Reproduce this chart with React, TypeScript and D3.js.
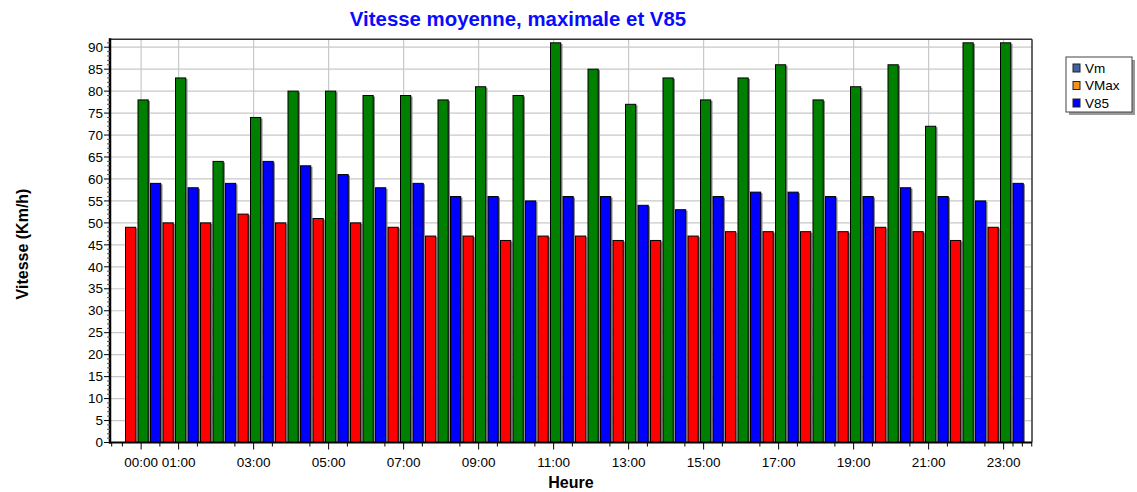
import React from "react";
import * as d3 from "d3";

const hourLabels = [
  "00:00", "01:00", "02:00", "03:00", "04:00", "05:00", "06:00", "07:00",
  "08:00", "09:00", "10:00", "11:00", "12:00", "13:00", "14:00", "15:00",
  "16:00", "17:00", "18:00", "19:00", "20:00", "21:00", "22:00", "23:00",
];
const vm = [49, 50, 50, 52, 50, 51, 50, 49, 47, 47, 46, 47, 47, 46, 46, 47, 48, 48, 48, 48, 49, 48, 46, 49];
const vmax = [78, 83, 64, 74, 80, 80, 79, 79, 78, 81, 79, 91, 85, 77, 83, 78, 83, 86, 78, 81, 86, 72, 91, 91];
const v85 = [59, 58, 59, 64, 63, 61, 58, 59, 56, 56, 55, 56, 56, 54, 53, 56, 57, 57, 56, 56, 58, 56, 55, 59];
const shownHourLabels = ["00:00", "01:00", "03:00", "05:00", "07:00", "09:00", "11:00", "13:00", "15:00", "17:00", "19:00", "21:00", "23:00"];
const yTickValues = [0, 5, 10, 15, 20, 25, 30, 35, 40, 45, 50, 55, 60, 65, 70, 75, 80, 85, 90];
const seriesNames = ["Vm", "VMax", "V85"];
const barColors = ["#ff0000", "#008000", "#0000ff"];
const legendColors = ["#3d62a6", "#f39020", "#0000ff"];

const W = 1137;
const H = 492;
const plot = { left: 110, right: 1032, top: 39.3, bottom: 442.5 };
const FONT = "'Liberation Sans', Arial, sans-serif";

export default function App() {
  const series = [vm, vmax, v85];
  const x0 = d3.scaleBand<string>().domain(hourLabels).range([125, 1025]).paddingInner(0).paddingOuter(0);
  const x1 = d3.scaleBand<string>().domain(seriesNames).range([0, x0.bandwidth()]).padding(0);
  const y = d3.scaleLinear().domain([0, 91.8]).range([plot.bottom, plot.top]);
  const tickOffset = x0.bandwidth() * 0.43;
  const bw = x1.bandwidth();

  const yMinor = d3.range(0, 92, 1).filter((v) => v % 5 !== 0);
  const halfStep = x0.bandwidth() / 2;
  const xMinor: number[] = [];
  const firstTick = (x0("00:00") as number) + tickOffset;
  for (let k = -1; k <= 46; k++) {
    if (k % 2 === 0 && k >= 0) continue;
    xMinor.push(firstTick + k * halfStep);
  }
  const lastTick = (x0("23:00") as number) + tickOffset;
  [0.25, 0.5, 0.75].forEach((f) => xMinor.push(lastTick + f * x0.bandwidth()));
  xMinor.push(plot.left + 1.7);

  return (
    <svg width={W} height={H} style={{ position: "fixed", left: 0, top: 0, background: "#fff" }} fontFamily={FONT}>
      <rect x={0} y={0} width={W} height={H} fill="#fff" />
      {/* title */}
      <text x={518} y={26} textAnchor="middle" fontSize={20.4} fontWeight="bold" fill="#0a0aff">
        Vitesse moyenne, maximale et V85
      </text>

      {/* plot background */}
      <rect x={plot.left} y={plot.top} width={plot.right - plot.left} height={plot.bottom - plot.top} fill="#fff" />

      {/* horizontal grid */}
      {yTickValues.filter((v) => v > 0).map((v) => (
        <line key={"hg" + v} x1={plot.left} x2={plot.right} y1={y(v)} y2={y(v)} stroke="#c8c8c8" strokeWidth={1.2} />
      ))}
      {/* vertical grid */}
      {shownHourLabels.map((h) => {
        const px = (x0(h) as number) + tickOffset;
        return <line key={"vg" + h} x1={px} x2={px} y1={plot.top} y2={plot.bottom} stroke="#c8c8c8" strokeWidth={1.2} />;
      })}

      {/* bars */}
      {hourLabels.map((h, i) => (
        <g key={"grp" + h} transform={`translate(${x0(h)},0)`}>
          {seriesNames.map((s, j) => {
            const bx = x1(s) as number;
            const top = y(series[j][i]);
            return (
              <g key={s}>
                <rect x={bx + 1.5} y={top + 1} width={bw - 1.5} height={plot.bottom - top - 1} fill="#8a8a8a" />
                <rect x={bx + 0.5} y={top} width={bw - 2.3} height={plot.bottom - top} fill={barColors[j]} stroke="#000" strokeWidth={1} />
              </g>
            );
          })}
        </g>
      ))}

      {/* frame top/right */}
      <line x1={plot.left} x2={plot.right} y1={plot.top} y2={plot.top} stroke="#333" strokeWidth={1.5} />
      <line x1={plot.right} x2={plot.right} y1={plot.top} y2={plot.bottom} stroke="#333" strokeWidth={1.5} />

      {/* y axis */}
      <line x1={plot.left} x2={plot.left} y1={plot.top - 1} y2={plot.bottom + 1} stroke="#000" strokeWidth={2.5} />
      {yTickValues.map((v) => (
        <g key={"yt" + v}>
          <line x1={plot.left - 6} x2={plot.left} y1={y(v)} y2={y(v)} stroke="#000" strokeWidth={1} />
          <text x={plot.left - 7} y={y(v)} dy="0.35em" textAnchor="end" fontSize={13.5} fill="#000">
            {v}
          </text>
        </g>
      ))}
      {yMinor.map((v) => (
        <line key={"ym" + v} x1={plot.left - 3} x2={plot.left} y1={y(v)} y2={y(v)} stroke="#555" strokeWidth={1} />
      ))}
      <text transform={`translate(28,244) rotate(-90)`} textAnchor="middle" fontSize={16} fontWeight="bold" fill="#000">
        Vitesse (Km/h)
      </text>

      {/* x axis */}
      <line x1={plot.left - 1} x2={plot.right} y1={plot.bottom} y2={plot.bottom} stroke="#000" strokeWidth={2} />
      {xMinor.map((px, k) => (
        <line key={"xm" + k} x1={px} x2={px} y1={plot.bottom} y2={plot.bottom + 4} stroke="#000" strokeWidth={1} />
      ))}
      {shownHourLabels.map((h) => {
        const px = (x0(h) as number) + tickOffset;
        return (
          <g key={"xt" + h}>
            <line x1={px} x2={px} y1={plot.bottom} y2={plot.bottom + 7} stroke="#000" strokeWidth={1} />
            <text x={px} y={467} textAnchor="middle" fontSize={13.5} fill="#000">
              {h}
            </text>
          </g>
        );
      })}
      <text x={571} y={488} textAnchor="middle" fontSize={16} fontWeight="bold" fill="#000">
        Heure
      </text>

      {/* legend */}
      <rect x={1069} y={60} width={66} height={55} fill="#999" />
      <rect x={1066} y={57} width={66} height={55} fill="#fff" stroke="#444" strokeWidth={1} />
      {seriesNames.map((s, j) => (
        <g key={"lg" + s} transform={`translate(1073,${68 + j * 17.5})`}>
          <rect x={0} y={-4} width={7} height={8} fill={legendColors[j]} stroke="#222" strokeWidth={1} />
          <text x={12} y={0} dy="0.35em" fontSize={13.5} fill="#000">
            {s}
          </text>
        </g>
      ))}
    </svg>
  );
}
